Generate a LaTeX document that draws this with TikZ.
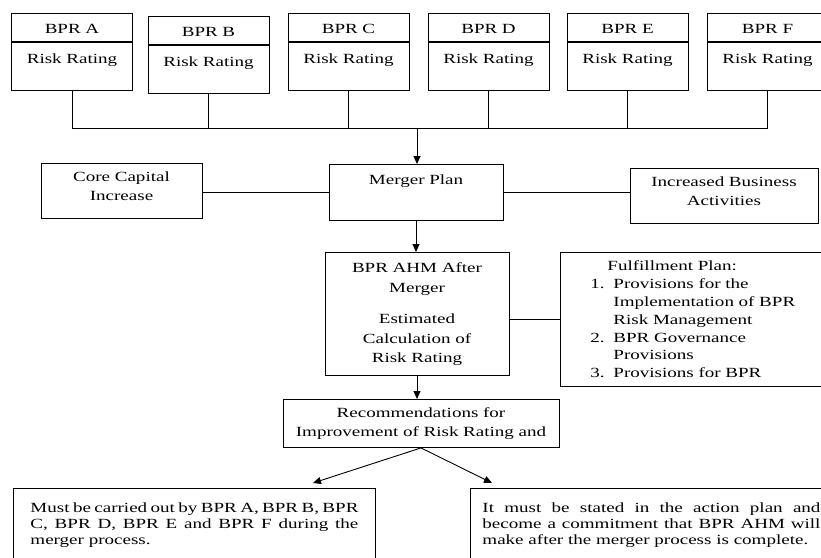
\documentclass[tikz,border=0pt]{standalone}
\usepackage{fontspec}
\setmainfont{Liberation Serif}[FakeStretch=1.36]
\usetikzlibrary{arrows.meta}
\begin{document}
\begin{tikzpicture}[x=1pt,y=-1pt, line width=0.9pt,
  every node/.style={font=\fontsize{14}{18.5}\selectfont, inner sep=0pt},
  box/.style={draw, rectangle, align=center},
  arr/.style={-{Triangle[length=8pt,width=7pt]}}]
\useasboundingbox (0,0) rectangle (821,557);
\clip (0,0) rectangle (821,557);

% top BPR boxes
\foreach \n/\l/\x/\t in {a/A/72/13,b/B/208.5/16,c/C/348.5/13,d/D/488.5/13,e/E/627.5/13,f/F/767.5/13}{
  \node[box, text width=121pt, text height=20pt, text depth=8pt, anchor=north] (h\n) at (\x,\t) {BPR \l};
  \node[box, text width=121pt, text height=21pt, text depth=27pt, anchor=north] (b\n) at (h\n.south) {Risk Rating};
}

\node[box, text width=174pt, text height=20.5pt, text depth=35.5pt, anchor=north] (merger) at (416,164) {Merger Plan};
\node[box, text width=161pt, text height=18.5pt, text depth=36.5pt, anchor=north] (core) at (121.5,163) {Core Capital\\Increase};
\node[box, text width=188pt, text height=18.5pt, text depth=36.5pt, anchor=north] (inc) at (724,168) {Increased Business\\Activities};

\coordinate (bus) at (417,128);
\draw (ba.south) -- (ba.south |- bus) -- (bf.south |- bus) -- (bf.south);
\foreach \n in {b,c,d,e} \draw (b\n.south) -- (b\n.south |- bus);
\draw[arr] (bus) -- (bus |- merger.north);

\draw (merger.west) -- (merger.west -| core.east);
\draw (merger.east) -- (merger.east -| inc.west);

\node[box, text width=184pt, text height=20.5pt, text depth=102.5pt, anchor=north,
  font=\fontsize{14}{19.5}\selectfont] (ahm) at (417,252)
  {BPR AHM After\\Merger\\[12pt]Estimated\\Calculation of\\Risk Rating};
\draw[arr] (merger.south) -- (merger.south |- ahm.north);

\node[draw, anchor=north west, align=left, text width=235pt, inner xsep=30pt, inner ysep=0pt,
  text height=18.5pt, text depth=115.5pt, font=\fontsize{14}{17.8}\selectfont] (ful) at (560,252)
  {\hspace*{17pt}Fulfillment Plan:\\
   \makebox[23pt][l]{1.}Provisions for the\\
   \hspace*{23pt}Implementation of BPR\\
   \hspace*{23pt}Risk Management\\
   \makebox[23pt][l]{2.}BPR Governance\\
   \hspace*{23pt}Provisions\\
   \makebox[23pt][l]{3.}Provisions for BPR};
\draw (ful.west) -- (ful.west -| ahm.east);

\node[box, text width=276pt, text height=18.5pt, text depth=29.5pt, anchor=north,
  font=\fontsize{14}{19}\selectfont] (rec) at (421,399)
  {Recommendations for\\Improvement of Risk Rating and};
\draw[arr] (ahm.south) -- (ahm.south |- rec.north);

\coordinate (tl) at (313,483);
\coordinate (tr) at (492,483);
\draw[arr] (rec.south) -- (tl);
\draw[arr] (rec.south) -- (tr);

\node[draw, anchor=north west, text width=328pt, inner xsep=17pt, inner ysep=0pt, align=justify,
  text height=24.5pt, text depth=70pt, font=\fontsize{14}{15.6}\selectfont] (bl) at (13,488)
  {Must be carried out by BPR A, BPR B, BPR\linebreak C, BPR D, BPR E and BPR F during the\linebreak merger process.};
\node[draw, anchor=north west, text width=338pt, inner xsep=12pt, inner ysep=0pt, align=justify,
  text height=24.5pt, text depth=70pt, font=\fontsize{14}{15.6}\selectfont] (br) at (470,488)
  {It must be stated in the action plan and\linebreak become a commitment that BPR AHM will\linebreak make after the merger process is complete.};
\end{tikzpicture}
\end{document}
